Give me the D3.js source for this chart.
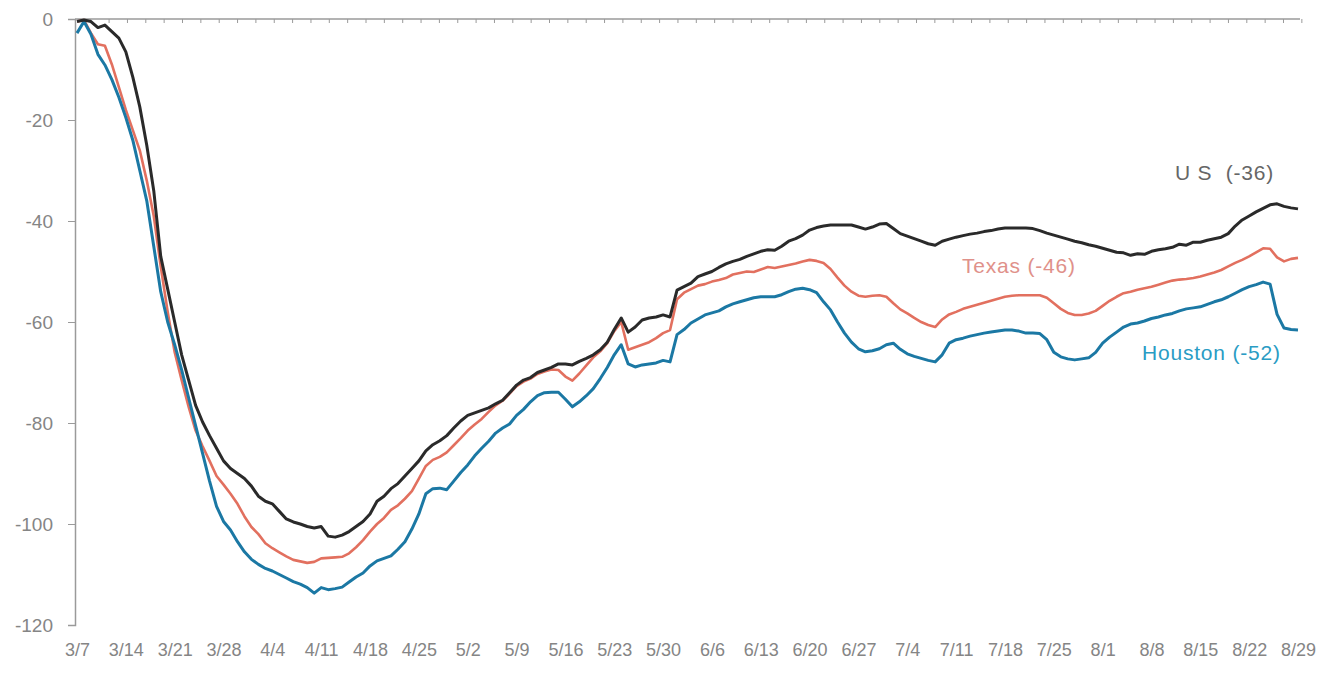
<!DOCTYPE html>
<html>
<head>
<meta charset="utf-8">
<script src="https://cdn.jsdelivr.net/npm/d3@7"></script>
<style>
  body { margin: 0; background: #fff; }
  svg { display: block; font-family: "Liberation Sans", Arial, sans-serif; }
  .axis text { fill: #858585; }
  .axis path, .axis line { stroke: #9a9a9a; }
  .serieslabel { white-space: pre; }
</style>
</head>
<body>
<script>
// daily values starting 3/7 (one row = one week)
const usValues = [
  -0.5, -0.2, -0.5, -1.7, -1.2, -2.5, -3.8,
  -6.5, -11.5, -17.4, -25, -34, -47, -53.5,
  -60, -66.5, -71.5, -76.5, -79.8, -82.5, -85,
  -87.5, -89, -90, -91, -92.5, -94.5, -95.5,
  -96, -97.5, -99, -99.6, -100, -100.5, -100.8,
  -100.5, -102.4, -102.6, -102.2, -101.5, -100.5, -99.5,
  -98, -95.5, -94.5, -93, -92, -90.5, -89,
  -87.5, -85.5, -84.3, -83.5, -82.5, -81, -79.6,
  -78.5, -78, -77.5, -77, -76.2, -75.5, -74,
  -72.5, -71.5, -71, -70, -69.5, -69, -68.3,
  -68.3, -68.5, -67.8, -67.2, -66.5, -65.5, -64,
  -61.5, -59.2, -62, -61, -59.6, -59.2, -59,
  -58.6, -59, -53.7, -53, -52.3, -51, -50.5,
  -50, -49.2, -48.5, -48, -47.6, -47, -46.5,
  -46, -45.7, -45.8, -45, -44, -43.5, -42.8,
  -41.8, -41.3, -41, -40.8, -40.8, -40.8, -40.8,
  -41.2, -41.6, -41.2, -40.6, -40.5, -41.5, -42.5,
  -43, -43.5, -44, -44.5, -44.8, -44, -43.6,
  -43.2, -42.9, -42.6, -42.4, -42.1, -41.9, -41.6,
  -41.4, -41.4, -41.4, -41.4, -41.5, -41.9, -42.4,
  -42.8, -43.2, -43.6, -44, -44.3, -44.7, -45,
  -45.4, -45.8, -46.2, -46.3, -46.8, -46.5, -46.6,
  -46, -45.7, -45.5, -45.2, -44.6, -44.8, -44.2,
  -44.2, -43.8, -43.5, -43.2, -42.5, -41, -39.8,
  -39, -38.2, -37.5, -36.8, -36.6, -37.1, -37.4,
  -37.6
];
const texasValues = [
  -0.5, -0.2, -2.8, -5, -5.3, -9, -13.5,
  -18, -22, -26, -32, -39, -49, -58,
  -66, -71.5, -76.8, -81.5, -84.6, -87.5, -90.5,
  -92.2, -94, -96, -98.5, -100.6, -102, -103.8,
  -104.8, -105.6, -106.4, -107.1, -107.4, -107.7, -107.5,
  -106.8, -106.7, -106.6, -106.5, -105.8, -104.6, -103.2,
  -101.5, -100, -98.8, -97.2, -96.3, -95, -93.5,
  -91, -88.5, -87.3, -86.7, -85.8, -84.4, -83,
  -81.5, -80.3, -79.2, -77.8, -76.5, -75.6, -74.2,
  -72.7, -71.8, -71.2, -70.3, -69.8, -69.4, -69.5,
  -70.8, -71.6, -70.2, -68.6, -67, -65.8, -64.2,
  -61.8, -60, -65.5, -65, -64.5, -64, -63.2,
  -62.2, -61.6, -55.5, -54.2, -53.5, -52.8, -52.5,
  -52, -51.7, -51.3, -50.6, -50.3, -50, -50.1,
  -49.6, -49.1, -49.3, -49, -48.7, -48.4, -48,
  -47.7, -47.9, -48.3, -49.5, -51.2, -52.8, -54,
  -54.8, -55, -54.8, -54.7, -55, -56.3, -57.5,
  -58.3, -59.2, -60, -60.6, -61, -59.5, -58.5,
  -58, -57.4, -57, -56.6, -56.2, -55.8, -55.4,
  -55, -54.8, -54.7, -54.7, -54.7, -54.7, -55.2,
  -56.3, -57.4, -58.2, -58.6, -58.6, -58.3, -57.8,
  -56.8, -55.8, -55, -54.3, -54, -53.6, -53.3,
  -53, -52.6, -52.2, -51.8, -51.6, -51.5, -51.3,
  -51, -50.6, -50.2, -49.7, -49, -48.3, -47.7,
  -47, -46.2, -45.4, -45.5, -47.2, -48, -47.5,
  -47.3
];
const houstonValues = [
  -2.8, -0.5, -3, -7, -9.1, -12, -15.5,
  -19.5, -24, -30, -36, -45, -54, -60,
  -64.5, -69.5, -75, -80.5, -86, -91.5, -96.5,
  -99.5, -101.2, -103.5, -105.5, -107, -108, -108.8,
  -109.3, -110, -110.7, -111.4, -111.9, -112.6, -113.7,
  -112.6, -113, -112.8, -112.5, -111.5, -110.5, -109.7,
  -108.3, -107.3, -106.8, -106.3, -105, -103.5, -101,
  -98, -94, -93, -92.9, -93.2, -91.5, -89.8,
  -88.3, -86.5, -85, -83.6, -82, -81, -80.2,
  -78.5, -77.3, -75.8, -74.6, -74, -73.9, -73.9,
  -75.3, -76.8, -75.8, -74.6, -73.2, -71.2, -69,
  -66.5, -64.5, -68.3, -68.9, -68.5, -68.3, -68.1,
  -67.6, -67.9, -62.5, -61.5, -60.2, -59.4, -58.6,
  -58.2, -57.8, -57, -56.4, -56, -55.6, -55.2,
  -55, -55, -55, -54.6, -54, -53.5, -53.3,
  -53.6, -54.2, -56, -57.6, -60, -62.2, -64,
  -65.3, -65.9, -65.7, -65.3, -64.5, -64.2, -65.4,
  -66.3, -66.8, -67.2, -67.6, -67.9, -66.5, -64.2,
  -63.5, -63.2, -62.8, -62.5, -62.2, -62, -61.8,
  -61.6, -61.6, -61.8, -62.2, -62.2, -62.3, -63.5,
  -66, -66.9, -67.3, -67.5, -67.3, -67.1, -66,
  -64.2, -63, -62, -61, -60.4, -60.2, -59.8,
  -59.3, -59, -58.6, -58.3, -57.8, -57.4, -57.2,
  -57, -56.5, -56, -55.6, -55, -54.3, -53.6,
  -53, -52.6, -52.1, -52.5, -58.5, -61.2, -61.5,
  -61.6
];
const weekLabels = ["3/7", "3/14", "3/21", "3/28", "4/4", "4/11", "4/18", "4/25", "5/2", "5/9",
  "5/16", "5/23", "5/30", "6/6", "6/13", "6/20", "6/27", "7/4", "7/11", "7/18",
  "7/25", "8/1", "8/8", "8/15", "8/22", "8/29"];
const yTicks = [0, -20, -40, -60, -80, -100, -120];
const seriesNames = ["Texas (-46)", "Houston (-52)", "U S  (-36)"];

const width = 1333, height = 673;
const svg = d3.select("body").append("svg")
    .attr("width", width)
    .attr("height", height);

const x = d3.scaleLinear().domain([0, usValues.length - 1]).range([77, 1298]);
const y = d3.scaleLinear().domain([-120, 0]).range([625, 19]);

// y axis
const yAxis = svg.append("g")
    .attr("class", "axis")
    .attr("transform", "translate(75,0)")
    .call(d3.axisLeft(y).tickValues(yTicks).tickSize(7).tickPadding(15).tickFormat(d => String(d)));
yAxis.select(".domain").attr("stroke-width", 1.5);
yAxis.selectAll("text").style("font-size", "19px");

// top line at zero with small tick marks
const topAxis = svg.append("g")
    .attr("class", "axis")
    .attr("transform", "translate(0," + y(0) + ")")
    .call(d3.axisBottom(x).tickValues(d3.range(1.9, usValues.length, 2.63)).tickSize(4).tickFormat(""));
topAxis.select(".domain").attr("d", "M75,0H1300").attr("stroke-width", 1.5);
topAxis.selectAll(".tick line").attr("stroke", "#aaa");

// week labels along the bottom
const weekDays = weekLabels.map((d, i) => i * 7);
const bottomAxis = svg.append("g")
    .attr("class", "axis")
    .attr("transform", "translate(0,640)")
    .call(d3.axisBottom(x).tickValues(weekDays).tickSize(0).tickFormat((d, i) => weekLabels[i]));
bottomAxis.select(".domain").remove();
bottomAxis.selectAll("text").style("font-size", "18px").attr("fill", "#7a7a7a");

// lines
const line = d3.line()
    .x((d, i) => x(i))
    .y(d => y(d));

const series = [
    { values: texasValues, color: "#e2705f", width: 2.6 },
    { values: houstonValues, color: "#1b78a4", width: 3 },
    { values: usValues, color: "#2a2a2a", width: 3 }
];
series.forEach(s => {
    svg.append("path")
        .datum(s.values)
        .attr("fill", "none")
        .attr("stroke", s.color)
        .attr("stroke-width", s.width)
        .attr("stroke-linejoin", "round")
        .attr("d", line);
});

// series labels
const labels = [
    { text: seriesNames[2], x: 1175, y: 180, color: "#666" },
    { text: seriesNames[0], x: 962, y: 273, color: "#e0918a" },
    { text: seriesNames[1], x: 1142, y: 360, color: "#2a9cc4" }
];
svg.selectAll(".serieslabel")
    .data(labels)
    .enter().append("text")
    .attr("class", "serieslabel")
    .attr("x", d => d.x)
    .attr("y", d => d.y)
    .attr("fill", d => d.color)
    .style("font-size", "21px")
    .style("letter-spacing", "0.8px")
    .text(d => d.text);
</script>
</body>
</html>
